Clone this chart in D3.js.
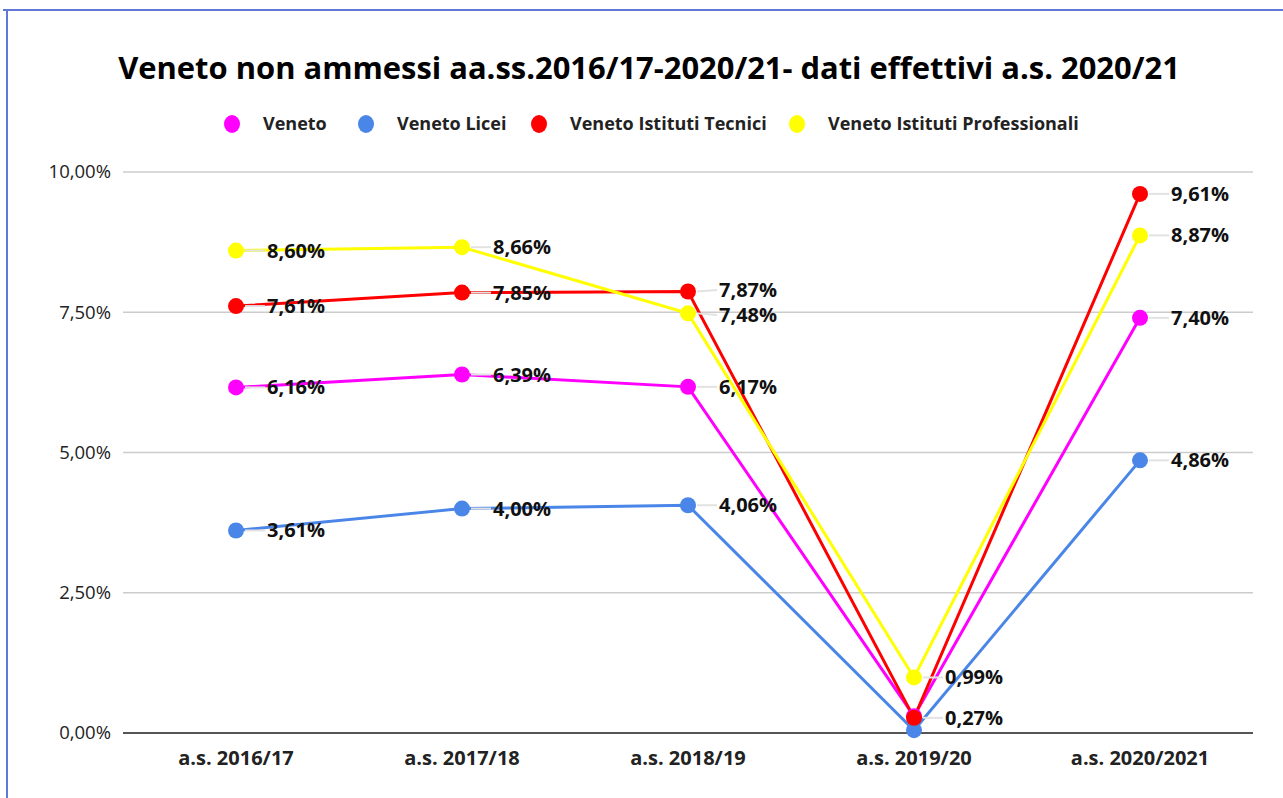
<!DOCTYPE html>
<html>
<head>
<meta charset="utf-8">
<script src="https://cdn.jsdelivr.net/npm/d3@7"></script>
<style>
  body { margin: 0; background: #fff; }
  svg { display: block; font-family: "Open Sans", sans-serif; }
</style>
</head>
<body>
<div id="chart"></div>
<script>
// ---- data ----
const categories = ["a.s. 2016/17", "a.s. 2017/18", "a.s. 2018/19", "a.s. 2019/20", "a.s. 2020/2021"];
const seriesNames = ["Veneto", "Veneto Licei", "Veneto Istituti Tecnici", "Veneto Istituti Professionali"];
const seriesColors = ["#ff00ff", "#4a86e8", "#ff0000", "#ffff00"];
const veneto = [6.16, 6.39, 6.17, 0.30, 7.40];
const licei = [3.61, 4.00, 4.06, 0.05, 4.86];
const tecnici = [7.61, 7.85, 7.87, 0.27, 9.61];
const professionali = [8.60, 8.66, 7.48, 0.99, 8.87];
// which data labels are visible (the rest overlap at 2019/20)
const showVeneto = [true, true, true, false, true];
const showLicei = [true, true, true, false, true];
const showTecnici = [true, true, true, true, true];
const showProfessionali = [true, true, true, true, true];
const yTicks = [0, 2.5, 5, 7.5, 10];

const values = [veneto, licei, tecnici, professionali];
const shows = [showVeneto, showLicei, showTecnici, showProfessionali];

const width = 1283, height = 798;
const margin = { top: 172, right: 30, bottom: 65, left: 123 };

const svg = d3.select("#chart").append("svg")
  .attr("width", width)
  .attr("height", height);

// frame (blue border top + left)
svg.append("line")
  .attr("x1", 3).attr("x2", width).attr("y1", 10).attr("y2", 10)
  .attr("stroke", "#6178d8").attr("stroke-width", 2);
svg.append("line")
  .attr("x1", 7).attr("x2", 7).attr("y1", 10).attr("y2", height)
  .attr("stroke", "#6178d8").attr("stroke-width", 2);

// title
const title = svg.append("text")
  .attr("x", 649)
  .attr("y", 79)
  .attr("text-anchor", "middle")
  .attr("font-weight", "bold")
  .attr("font-size", 30)
  .attr("fill", "#000")
  .text("Veneto non ammessi aa.ss.2016/17-2020/21- dati effettivi a.s. 2020/21");
// fit title to the reference width
const tw = title.node().getComputedTextLength();
title.attr("font-size", 30 * 1062 / tw);

// scales
const x = d3.scalePoint()
  .domain(categories)
  .range([margin.left, width - margin.right])
  .padding(0.5);

const y = d3.scaleLinear()
  .domain([0, 10])
  .range([height - margin.bottom, margin.top]);

const fmt = v => v.toFixed(2).replace(".", ",") + "%";

// gridlines
svg.append("g")
  .selectAll("line")
  .data(yTicks.filter(d => d > 0))
  .join("line")
  .attr("x1", margin.left).attr("x2", width - margin.right)
  .attr("y1", d => y(d)).attr("y2", d => y(d))
  .attr("stroke", "#cccccc").attr("stroke-width", 1.5);

// y tick labels
svg.append("g")
  .selectAll("text")
  .data(yTicks)
  .join("text")
  .attr("x", margin.left - 12)
  .attr("y", d => y(d))
  .attr("dy", "0.35em")
  .attr("text-anchor", "end")
  .attr("font-size", 18.5)
  .attr("fill", "#222")
  .text(fmt);

// baseline
svg.append("line")
  .attr("x1", margin.left).attr("x2", width - margin.right)
  .attr("y1", y(0)).attr("y2", y(0))
  .attr("stroke", "#555").attr("stroke-width", 2);

// x labels
svg.append("g")
  .selectAll("text")
  .data(categories)
  .join("text")
  .attr("x", d => x(d))
  .attr("y", y(0) + 32)
  .attr("text-anchor", "middle")
  .attr("font-weight", "bold")
  .attr("font-size", 20)
  .attr("fill", "#222")
  .text(d => d);

// legend
const legendX = [232, 366, 539, 797];
const legend = svg.append("g")
  .selectAll("g")
  .data(seriesNames)
  .join("g")
  .attr("transform", (d, i) => `translate(${legendX[i]}, 124)`);
legend.append("ellipse")
  .attr("rx", 8).attr("ry", 9)
  .attr("fill", (d, i) => seriesColors[i]);
legend.append("text")
  .attr("x", 31)
  .attr("dy", "0.35em")
  .attr("font-weight", "bold")
  .attr("font-size", 18)
  .attr("fill", "#222")
  .text(d => d);

// lines + markers
const line = d3.line()
  .x((d, i) => x(categories[i]))
  .y(d => y(d));

const seriesG = svg.append("g");
values.forEach((vals, s) => {
  seriesG.append("path")
    .datum(vals)
    .attr("d", line)
    .attr("fill", "none")
    .attr("stroke", seriesColors[s])
    .attr("stroke-width", 3);
});
values.forEach((vals, s) => {
  seriesG.append("g")
    .selectAll("circle")
    .data(vals)
    .join("circle")
    .attr("cx", (d, i) => x(categories[i]))
    .attr("cy", d => y(d))
    .attr("r", 8)
    .attr("fill", seriesColors[s]);
});

// data labels: collect per category, then push apart those that are too close
const minGap = 25;
const labelG = svg.append("g");
categories.forEach((cat, i) => {
  const items = [];
  values.forEach((vals, s) => {
    if (shows[s][i]) items.push({ v: vals[i], py: y(vals[i]), ly: y(vals[i]) });
  });
  items.sort((a, b) => a.py - b.py);
  for (let k = 1; k < items.length; k++) {
    const gap = items[k].ly - items[k - 1].ly;
    if (gap < minGap) {
      const shift = (minGap - gap) / 2;
      items[k - 1].ly -= shift;
      items[k].ly += shift;
    }
  }
  const cx = x(cat);
  items.forEach(d => {
    labelG.append("line")
      .attr("x1", cx + 9).attr("x2", cx + 29)
      .attr("y1", d.py).attr("y2", d.ly)
      .attr("stroke", "#e2e2e2").attr("stroke-width", 2);
    labelG.append("text")
      .attr("x", cx + 31)
      .attr("y", d.ly)
      .attr("dy", "0.35em")
      .attr("font-weight", "bold")
      .attr("font-size", 20)
      .attr("fill", "#111")
      .text(fmt(d.v));
  });
});
</script>
</body>
</html>
